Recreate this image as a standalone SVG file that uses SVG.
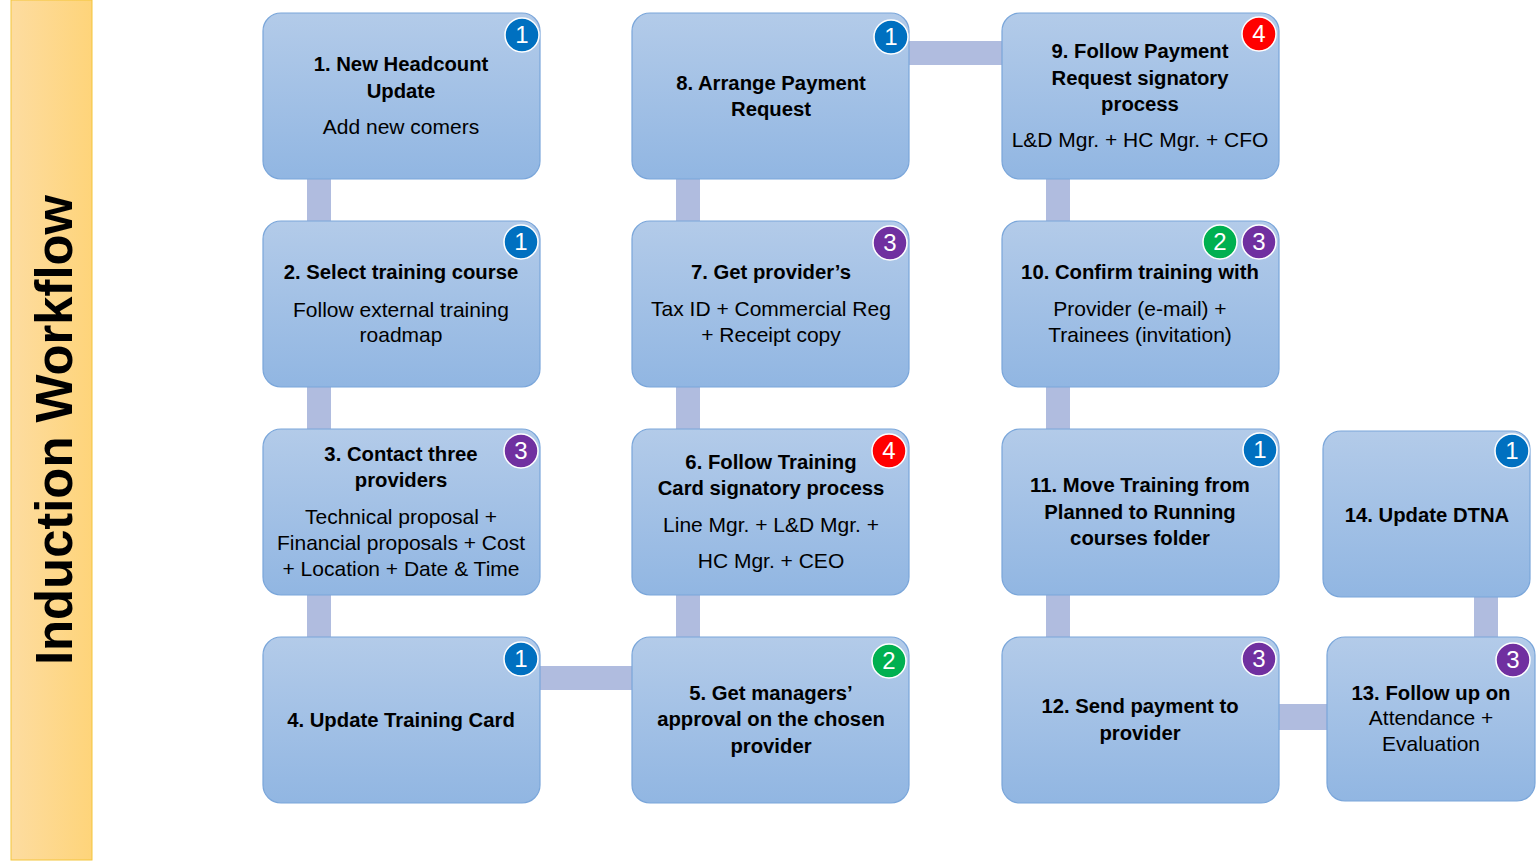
<svg xmlns="http://www.w3.org/2000/svg" width="1539" height="861" viewBox="0 0 1539 861">
<defs>
<linearGradient id="gNode" x1="0" y1="0" x2="0" y2="1">
<stop offset="0" stop-color="#b3cbe9"/>
<stop offset="1" stop-color="#91b6e2"/>
</linearGradient>
<linearGradient id="gBan" x1="0" y1="0" x2="1" y2="0">
<stop offset="0" stop-color="#fddca0"/>
<stop offset="1" stop-color="#fed47a"/>
</linearGradient>
</defs>
<style>
.node rect{fill:url(#gNode);stroke:#7aa6da;stroke-width:1.2}
.t{font-family:"Liberation Sans",Arial,sans-serif;font-size:21px;fill:#000;text-anchor:middle}
.b{font-weight:bold;font-size:20.3px}
.bar{fill:#b0bcdf}
.badge circle{stroke:#ffffff;stroke-width:1.5}
.badge text{font-family:"Liberation Sans",Arial,sans-serif;font-size:24px;fill:#fff;text-anchor:middle}
.c1{fill:#0070c0}.c2{fill:#00b050}.c3{fill:#7030a0}.c4{fill:#ff0000}
</style>
<rect x="11" y="0" width="81" height="860" fill="url(#gBan)" stroke="#f4c53a" stroke-width="1"/>
<text transform="translate(72,430) rotate(-90)" font-family="Liberation Sans,Arial,sans-serif" font-weight="bold" font-size="52" text-anchor="middle" textLength="470" lengthAdjust="spacingAndGlyphs">Induction Workflow</text>
<g id="connectors">
<rect class="bar" x="307" y="179" width="24" height="42"/>
<rect class="bar" x="307" y="387" width="24" height="42"/>
<rect class="bar" x="307" y="595" width="24" height="42"/>
<rect class="bar" x="540" y="666" width="92" height="24"/>
<rect class="bar" x="676" y="595" width="24" height="42"/>
<rect class="bar" x="676" y="387" width="24" height="42"/>
<rect class="bar" x="676" y="179" width="24" height="42"/>
<rect class="bar" x="909" y="41" width="93" height="24"/>
<rect class="bar" x="1046" y="179" width="24" height="42"/>
<rect class="bar" x="1046" y="387" width="24" height="42"/>
<rect class="bar" x="1046" y="595" width="24" height="42"/>
<rect class="bar" x="1279" y="704" width="48" height="26"/>
<rect class="bar" x="1474" y="597" width="24" height="40"/>
</g>
<g id="node1" class="node">
<rect x="263" y="13" width="277" height="166" rx="18"/>
<text class="t b" x="401" y="71">1. New Headcount</text>
<text class="t b" x="401" y="98">Update</text>
<text class="t" x="401" y="134">Add new comers</text>
<g class="badge"><circle class="c1" cx="522" cy="35" r="17"/><text x="522" y="43">1</text></g>
</g>
<g id="node2" class="node">
<rect x="263" y="221" width="277" height="166" rx="18"/>
<text class="t b" x="401" y="279">2. Select training course</text>
<text class="t" x="401" y="317">Follow external training</text>
<text class="t" x="401" y="342">roadmap</text>
<g class="badge"><circle class="c1" cx="521" cy="242" r="17"/><text x="521" y="250">1</text></g>
</g>
<g id="node3" class="node">
<rect x="263" y="429" width="277" height="166" rx="18"/>
<text class="t b" x="401" y="461">3. Contact three</text>
<text class="t b" x="401" y="487">providers</text>
<text class="t" x="401" y="524">Technical proposal +</text>
<text class="t" x="401" y="550">Financial proposals + Cost</text>
<text class="t" x="401" y="576">+ Location + Date &amp; Time</text>
<g class="badge"><circle class="c3" cx="521" cy="451" r="17"/><text x="521" y="459">3</text></g>
</g>
<g id="node4" class="node">
<rect x="263" y="637" width="277" height="166" rx="18"/>
<text class="t b" x="401" y="727">4. Update Training Card</text>
<g class="badge"><circle class="c1" cx="521" cy="659" r="17"/><text x="521" y="667">1</text></g>
</g>
<g id="node5" class="node">
<rect x="632" y="637" width="277" height="166" rx="18"/>
<text class="t b" x="771" y="700">5. Get managers’</text>
<text class="t b" x="771" y="726">approval on the chosen</text>
<text class="t b" x="771" y="753">provider</text>
<g class="badge"><circle class="c2" cx="889" cy="661" r="17"/><text x="889" y="669">2</text></g>
</g>
<g id="node6" class="node">
<rect x="632" y="429" width="277" height="166" rx="18"/>
<text class="t b" x="771" y="469">6. Follow Training</text>
<text class="t b" x="771" y="495">Card signatory process</text>
<text class="t" x="771" y="532">Line Mgr. + L&amp;D Mgr. +</text>
<text class="t" x="771" y="568">HC Mgr. + CEO</text>
<g class="badge"><circle class="c4" cx="889" cy="451" r="17"/><text x="889" y="459">4</text></g>
</g>
<g id="node7" class="node">
<rect x="632" y="221" width="277" height="166" rx="18"/>
<text class="t b" x="771" y="279">7. Get provider’s</text>
<text class="t" x="771" y="316">Tax ID + Commercial Reg</text>
<text class="t" x="771" y="342">+ Receipt copy</text>
<g class="badge"><circle class="c3" cx="890" cy="243" r="17"/><text x="890" y="251">3</text></g>
</g>
<g id="node8" class="node">
<rect x="632" y="13" width="277" height="166" rx="18"/>
<text class="t b" x="771" y="90">8. Arrange Payment</text>
<text class="t b" x="771" y="116">Request</text>
<g class="badge"><circle class="c1" cx="891" cy="37" r="17"/><text x="891" y="45">1</text></g>
</g>
<g id="node9" class="node">
<rect x="1002" y="13" width="277" height="166" rx="18"/>
<text class="t b" x="1140" y="58">9. Follow Payment</text>
<text class="t b" x="1140" y="85">Request signatory</text>
<text class="t b" x="1140" y="111">process</text>
<text class="t" x="1140" y="147">L&amp;D Mgr. + HC Mgr. + CFO</text>
<g class="badge"><circle class="c4" cx="1259" cy="34" r="17"/><text x="1259" y="42">4</text></g>
</g>
<g id="node10" class="node">
<rect x="1002" y="221" width="277" height="166" rx="18"/>
<text class="t b" x="1140" y="279">10. Confirm training with</text>
<text class="t" x="1140" y="316">Provider (e-mail) +</text>
<text class="t" x="1140" y="342">Trainees (invitation)</text>
<g class="badge"><circle class="c2" cx="1220" cy="242" r="17"/><text x="1220" y="250">2</text></g>
<g class="badge"><circle class="c3" cx="1259" cy="242" r="17"/><text x="1259" y="250">3</text></g>
</g>
<g id="node11" class="node">
<rect x="1002" y="429" width="277" height="166" rx="18"/>
<text class="t b" x="1140" y="492">11. Move Training from</text>
<text class="t b" x="1140" y="519">Planned to Running</text>
<text class="t b" x="1140" y="545">courses folder</text>
<g class="badge"><circle class="c1" cx="1260" cy="450" r="17"/><text x="1260" y="458">1</text></g>
</g>
<g id="node12" class="node">
<rect x="1002" y="637" width="277" height="166" rx="18"/>
<text class="t b" x="1140" y="713">12. Send payment to</text>
<text class="t b" x="1140" y="740">provider</text>
<g class="badge"><circle class="c3" cx="1259" cy="659" r="17"/><text x="1259" y="667">3</text></g>
</g>
<g id="node13" class="node">
<rect x="1327" y="637" width="208" height="164" rx="18"/>
<text class="t b" x="1431" y="700">13. Follow up on</text>
<text class="t" x="1431" y="725">Attendance +</text>
<text class="t" x="1431" y="751">Evaluation</text>
<g class="badge"><circle class="c3" cx="1513" cy="660" r="17"/><text x="1513" y="668">3</text></g>
</g>
<g id="node14" class="node">
<rect x="1323" y="431" width="207" height="166" rx="18"/>
<text class="t b" x="1427" y="522">14. Update DTNA</text>
<g class="badge"><circle class="c1" cx="1512" cy="451" r="17"/><text x="1512" y="459">1</text></g>
</g>
</svg>
